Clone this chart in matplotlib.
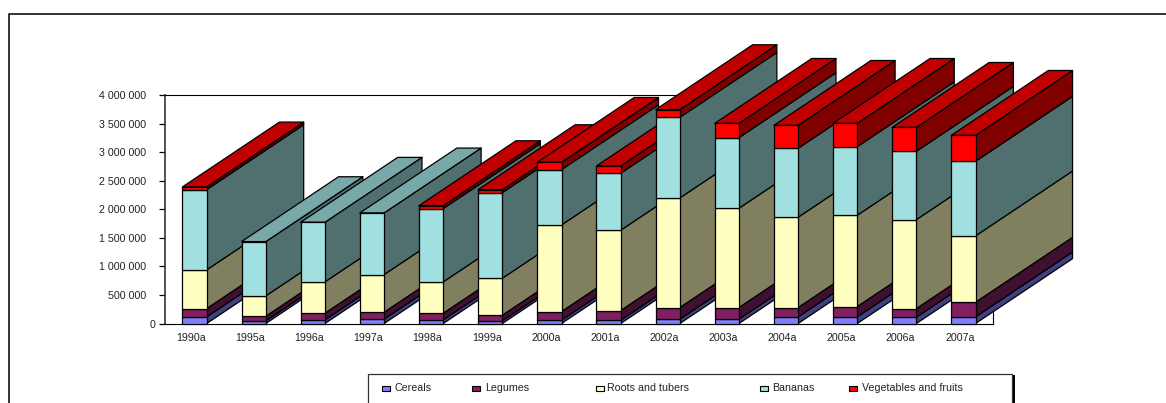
"""Stacked production by food group, 1990-2007, drawn as extruded 3-D columns."""
from __future__ import annotations

import matplotlib
matplotlib.use("Agg")
import matplotlib.pyplot as plt
import numpy as np
from matplotlib.patches import Polygon, Rectangle
from matplotlib.ticker import FuncFormatter, MultipleLocator

plt.rcParams["font.family"] = ["Liberation Sans", "DejaVu Sans"]

W_PX, H_PX = 1166, 403

years = ["1990a", "1995a", "1996a", "1997a", "1998a", "1999a", "2000a",
         "2001a", "2002a", "2003a", "2004a", "2005a", "2006a", "2007a"]
groups = ["Cereals", "Legumes", "Roots and tubers", "Bananas", "Vegetables and fruits"]

# cumulative tops of the stack, one list per food group
cereals_top = [117000, 47000, 64000, 76000, 64000, 47000, 58000,
               58000, 76000, 76000, 117000, 117000, 111000, 117000]
legumes_top = [262000, 128000, 181000, 198000, 181000, 146000, 210000,
               227000, 280000, 280000, 280000, 297000, 262000, 373000]
roots_top = [939000, 484000, 729000, 857000, 729000, 793000, 1726000,
             1633000, 2198000, 2018000, 1860000, 1895000, 1819000, 1534000]
bananas_top = [2344000, 1434000, 1773000, 1936000, 2012000, 2292000, 2694000,
               2630000, 3609000, 3254000, 3067000, 3096000, 3015000, 2840000]
vegetables_top = [2391000, 1434000, 1773000, 1936000, 2064000, 2344000, 2822000,
                  2758000, 3744000, 3504000, 3469000, 3504000, 3434000, 3294000]

front_colors = ["#8080FF", "#802060", "#FFFFC0", "#A0E0E0", "#FF0000"]
side_colors = ["#404080", "#401030", "#808060", "#507070", "#800000"]
top_colors = ["#6060C0", "#601848", "#C0C090", "#78A8A8", "#C00000"]

BAR_WIDTH = 0.41
DEPTH_X = 1.64        # extrusion, in category units
DEPTH_Y = 1135000     # extrusion, in value units
EDGE = dict(edgecolor="black", linewidth=0.9, joinstyle="round", clip_on=False, zorder=3)
TEXT_COLOR = "#222222"
FONT_SIZE = 7.7


def draw_column(ax: plt.Axes, i: int, tops: list[float]) -> None:
    """Draw one stacked column: side faces, top face, then the front."""
    x0, x1 = i - BAR_WIDTH / 2, i + BAR_WIDTH / 2
    segments = [(b, t, k) for k, (b, t) in enumerate(zip([0.0] + tops[:-1], tops)) if t > b]
    for y0, y1, k in segments:
        ax.add_patch(Polygon([(x1, y0), (x1 + DEPTH_X, y0 + DEPTH_Y),
                              (x1 + DEPTH_X, y1 + DEPTH_Y), (x1, y1)],
                             facecolor=side_colors[k], **EDGE))
    _, y_top, k_top = segments[-1]
    ax.add_patch(Polygon([(x0, y_top), (x1, y_top), (x1 + DEPTH_X, y_top + DEPTH_Y),
                          (x0 + DEPTH_X, y_top + DEPTH_Y)],
                         facecolor=top_colors[k_top], **EDGE))
    for y0, y1, k in segments:
        ax.add_patch(Rectangle((x0, y0), BAR_WIDTH, y1 - y0,
                               facecolor=front_colors[k], **EDGE))


def value_label(v: float, _pos: int) -> str:
    """Space-separated thousands; non-zero values carry a trailing gap."""
    if v == 0:
        return "0"
    return f"{v:,.0f}".replace(",", " ") + "   "


fig = plt.figure(figsize=(W_PX / 100, H_PX / 100), dpi=100)

# page layer in pixel units: outer frame and legend box
page = fig.add_axes([0, 0, 1, 1], zorder=0)
page.set_xlim(0, W_PX)
page.set_ylim(H_PX, 0)
page.axis("off")
page.plot([9.4, 9.4, W_PX + 2], [H_PX + 2, 14, 14], color="#111111", lw=1.2)

page.add_patch(Rectangle((1012, 375), 3, 40, facecolor="black", edgecolor="none"))
page.add_patch(Rectangle((368, 373.5), 644, 40, facecolor="white", edgecolor="#333333", lw=0.9))
marker_x = [382, 472, 595.5, 759.5, 849]
label_x = [394.7, 484.7, 607.3, 771.7, 862.3]
for name, color, mx, lx in zip(groups, front_colors, marker_x, label_x):
    page.add_patch(Rectangle((mx, 385.5), 8, 5.5, facecolor=color, edgecolor="black", lw=0.8))
    page.text(lx, 388, name, fontsize=FONT_SIZE, ha="left", va="center", color=TEXT_COLOR)

# chart layer
ax = fig.add_axes([165 / W_PX, 1 - 323.5 / H_PX, 828 / W_PX, 228.5 / H_PX], zorder=1)
ax.patch.set_alpha(0)
ax.set_xlim(-0.5, 13.5)
ax.set_ylim(0, 4000000)
ax.yaxis.set_major_locator(MultipleLocator(500000))
ax.yaxis.set_major_formatter(FuncFormatter(value_label))
ax.set_xticks(np.arange(len(years)) - 0.06)
ax.set_xticklabels(years)
ax.tick_params(axis="x", length=0, pad=7, labelsize=FONT_SIZE, labelcolor=TEXT_COLOR)
ax.tick_params(axis="y", length=4, width=0.9, pad=3, labelsize=FONT_SIZE, labelcolor=TEXT_COLOR)
for spine in ax.spines.values():
    spine.set_linewidth(0.8)
ax.spines["left"].set_linewidth(1.2)
ax.spines["left"].set_color("#333333")

stack = np.array([cereals_top, legumes_top, roots_top, bananas_top, vegetables_top], dtype=float)
for i in range(len(years)):
    draw_column(ax, i, list(stack[:, i]))

fig.savefig("out.png", dpi=100)
plt.close(fig)
